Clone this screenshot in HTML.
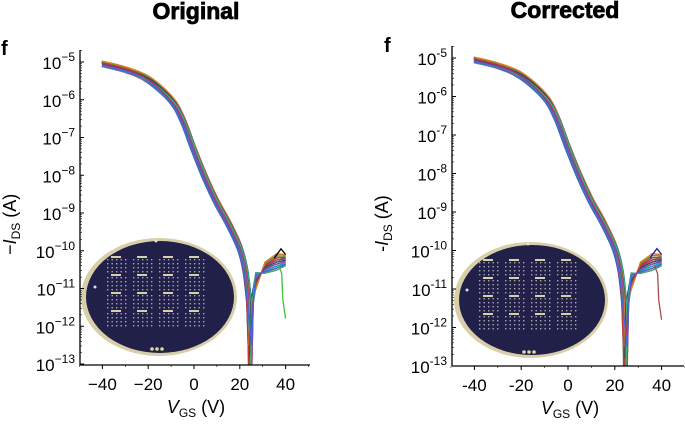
<!DOCTYPE html>
<html><head><style>
body{margin:0;background:#fff;width:685px;height:421px;overflow:hidden;font-family:"Liberation Sans",sans-serif}
svg text{font-family:"Liberation Sans",sans-serif}
</style></head><body>
<svg id="s" width="685" height="421" viewBox="0 0 685 421" xmlns="http://www.w3.org/2000/svg">
<defs><clipPath id="c1"><rect x="0" y="0" width="685" height="365"/></clipPath><clipPath id="c2"><rect x="0" y="0" width="685" height="366"/></clipPath></defs>
<text x="196" y="19" font-size="23" font-weight="bold" text-anchor="middle" stroke="#000" stroke-width="0.8">Original</text>
<text x="565" y="18" font-size="23" font-weight="bold" text-anchor="middle" stroke="#000" stroke-width="0.8">Corrected</text>
<text x="1" y="55" font-size="20" font-weight="bold">f</text>
<text x="384" y="52" font-size="20" font-weight="bold">f</text>
<g id="g1"></g><g id="g2"></g>
</svg>
<script>
const NS="http://www.w3.org/2000/svg";
function el(p,t,a,txt){const e=document.createElementNS(NS,t);for(const k in a)e.setAttribute(k,a[k]);if(txt!==undefined)e.textContent=txt;p.appendChild(e);return e;}
const pts=[[-40,-5.05],[-30,-5.2],[-20,-5.45],[-10,-5.98],[-5,-6.5],[0,-7.3],[5,-8.05],[10,-8.7],[15,-9.25],[20,-9.9],[22.5,-10.5],[24,-11.3]];
function spline(P){let d="M"+P[0][0].toFixed(1)+","+P[0][1].toFixed(1);
 for(let i=0;i<P.length-1;i++){const p0=P[Math.max(0,i-1)],p1=P[i],p2=P[i+1],p3=P[Math.min(P.length-1,i+2)];
 d+="C"+(p1[0]+(p2[0]-p0[0])/6).toFixed(1)+","+(p1[1]+(p2[1]-p0[1])/6).toFixed(1)+" "+(p2[0]-(p3[0]-p1[0])/6).toFixed(1)+","+(p2[1]-(p3[1]-p1[1])/6).toFixed(1)+" "+p2[0].toFixed(1)+","+p2[1].toFixed(1);}
 return d;}
const cols=["#2a6fb5","#7a3b9e","#c2185b","#2e8b57","#1f3f9f","#d32f2f","#17a2b8","#6b8e23","#8e44ad","#e67e22","#34495e","#3cb371","#b03060","#4169e1","#20b2aa","#556b2f"];
function panel(g,opt){
 const X=v=>opt.x0+v*opt.kx, Y=l=>opt.y5+(-5-l)*opt.ky;
 el(g,"ellipse",{cx:opt.ex,cy:opt.ey,rx:opt.erx,ry:opt.ery,fill:"#d8cfa8"});
 el(g,"ellipse",{cx:opt.ex+1,cy:opt.ey,rx:opt.erx-4,ry:opt.ery-3,fill:"#202048"});
 for(let i=0;i<4;i++)for(let j=0;j<4;j++){
  const bx=opt.ex-52+i*26,by=opt.ey-38+j*18;
  for(let a=0;a<5;a++)for(let b=0;b<4;b++)el(g,"rect",{x:bx+a*4.5,y:by+b*4,width:1.4,height:1.4,fill:"#a8a8b8"});
  el(g,"rect",{x:bx+4,y:by-3,width:10,height:2,fill:"#d8d0a8"});
 }
 el(g,"circle",{cx:opt.ex-3,cy:opt.ey-56,r:1.5,fill:"#ddd"});
 el(g,"circle",{cx:opt.ex-64,cy:opt.ey-10,r:1.5,fill:"#ddd"});
 for(let k=0;k<3;k++)el(g,"circle",{cx:opt.ex-7+k*5,cy:opt.ey+52,r:1.8,fill:"#e0d8a0"});
 const cg=el(g,"g",{"clip-path":"url(#"+opt.clip+")"});
 for(let c=0;c<30;c++){
  const dv=(c%7-3)*0.35, dl=((c*5)%9-4)*0.018;
  const P=pts.map(p=>[X(p[0]+dv*(p[0]>-30?1:0.3)),Y(p[1]+dl)]);
  let d=spline(P);
  const dip=24+(c%5)*0.3, bottom=-12.2-(c%4)*0.3-(c%3==0?1:0);
  d+="L"+X(dip).toFixed(1)+","+Y(bottom).toFixed(1)+"L"+X(dip+0.7).toFixed(1)+","+Y(-11.4).toFixed(1)+"L"+X(27)+","+Y(-10.8-dl*3)+"L"+X(31)+","+Y(-10.45+dl*2)+"L"+X(36)+","+Y(-10.3+dl*3)+"L"+X(40)+","+Y(-10.25+dl*2);
  el(cg,"path",{d:d,fill:"none",stroke:cols[c%cols.length],"stroke-width":1.2});
 }
 el(g,"path",{d:"M"+X(35)+","+Y(-10.2)+"L"+X(38)+","+Y(-9.95)+"L"+X(40)+","+Y(-10.1),fill:"none",stroke:opt.blk,"stroke-width":1.3});
 el(g,"path",{d:"M"+X(37)+","+Y(-10.4)+"L"+X(38.3)+","+Y(-10.6)+"L"+X(38.8)+","+Y(-11.3)+"L"+X(40)+","+Y(-11.8),fill:"none",stroke:opt.odd,"stroke-width":1.3});
 el(g,"line",{x1:opt.ax,y1:opt.atop,x2:opt.ax,y2:opt.abot,stroke:"#000","stroke-width":1.3});
 el(g,"line",{x1:opt.ax,y1:opt.abot,x2:opt.aright,y2:opt.abot,stroke:"#000","stroke-width":1.3});
 for(let e=5;e<=13;e++){
  const y=Y(-e);
  el(g,"line",{x1:opt.ax,y1:y,x2:opt.ax+4,y2:y,stroke:"#000"});
  for(let m=2;m<10;m++){const ym=y-Math.log10(m)*opt.ky;if(ym>opt.atop)el(g,"line",{x1:opt.ax,y1:ym,x2:opt.ax+2,y2:ym,stroke:"#000","stroke-width":0.6});}
  const t=el(g,"text",{x:opt.ax-5,y:y+7,"font-size":17,"text-anchor":"end"});
  t.textContent="10";
  el(t,"tspan",{dy:-8,"font-size":12},opt.minus+e);
 }
 for(let v=-40;v<=40;v+=20){
  el(g,"line",{x1:X(v),y1:opt.abot,x2:X(v),y2:opt.abot+4,stroke:"#000"});
  el(g,"text",{x:X(v),y:opt.abot+25,"font-size":17,"text-anchor":"middle"},v<0?opt.minus+(-v):""+v);
 }
 for(let v=-50;v<=50;v+=10)el(g,"line",{x1:X(v),y1:opt.abot,x2:X(v),y2:opt.abot+2,stroke:"#000","stroke-width":0.6});
 const xl=el(g,"text",{x:X(0)+2,y:opt.abot+48,"font-size":18,"text-anchor":"middle"});
 el(xl,"tspan",{"font-style":"italic"},"V");el(xl,"tspan",{dy:4,"font-size":12},"GS");el(xl,"tspan",{dy:-4}," (V)");
 const yl=el(g,"text",{transform:"translate("+(opt.ax-64)+","+Y(-9.3)+") rotate(-90)","font-size":18,"text-anchor":"middle"});
 el(yl,"tspan",{},opt.minus);el(yl,"tspan",{"font-style":"italic"},"I");el(yl,"tspan",{dy:4,"font-size":12},"DS");el(yl,"tspan",{dy:-4}," (A)");
}
panel(document.getElementById("g1"),{x0:194,kx:2.29,y5:62,ky:37.75,ax:80,atop:50,abot:365,aright:310,ex:159,ey:297,erx:78,ery:59,blk:"#000",odd:"#3cc23c",minus:"\u2212",clip:"c1"});
panel(document.getElementById("g2"),{x0:568,kx:2.34,y5:58,ky:38.5,ax:452,atop:46,abot:366,aright:684,ex:531,ey:300,erx:77,ery:58,blk:"#2020a0",odd:"#a05050",minus:"-",clip:"c2"});
</script>
</body></html>
